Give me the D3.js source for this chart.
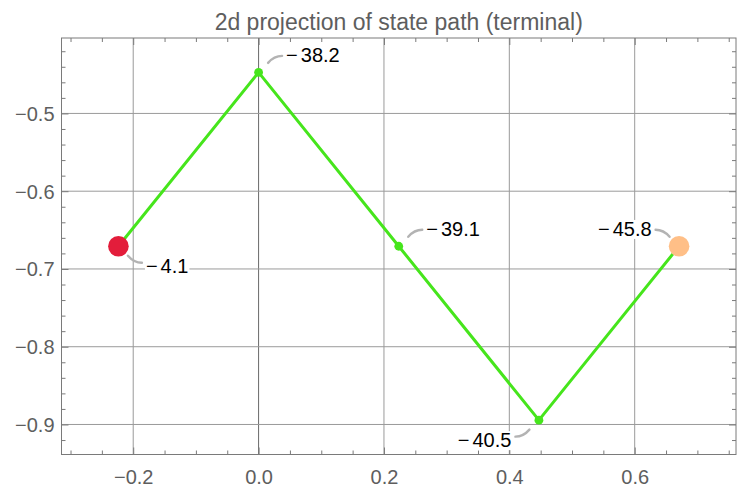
<!DOCTYPE html>
<html>
<head>
<meta charset="utf-8">
<script src="https://cdn.jsdelivr.net/npm/d3@7"></script>
<style>
  html, body { margin: 0; padding: 0; background: #fff; }
  svg { display: block; font-family: "Liberation Sans", Arial, Helvetica, sans-serif; }
</style>
</head>
<body>
<svg id="chart" width="738" height="489"></svg>
<script>
// State path projected to 2d, with the value attached to each state
const pathX = [-0.2236, 0.0, 0.2236, 0.4472, 0.6708];
const pathY = [-0.6708, -0.4472, -0.6708, -0.8944, -0.6708];
const pathValues = [-4.1, -38.2, -39.1, -40.5, -45.8];
// Which side of the point each callout sits on: [horizontal, vertical]
const calloutSide = [[1, 1], [1, -1], [1, -1], [-1, 1], [-1, -1]];

const xTicks = [-0.2, 0.0, 0.2, 0.4, 0.6];
const yTicks = [-0.9, -0.8, -0.7, -0.6, -0.5];
const xDomain = [-0.3144, 0.7616];
const yDomain = [-0.9386, -0.4030];

const W = 738, H = 489;
const plot = { left: 61.5, right: 736, top: 38, bottom: 454.5 };

const svg = d3.select("#chart");
const x = d3.scaleLinear().domain(xDomain).range([plot.left, plot.right]);
const y = d3.scaleLinear().domain(yDomain).range([plot.bottom, plot.top]);
const fmt = d3.format(".1f");

const frameColor = "#7a7a7a";
const gridColor = "#9a9a9a";
const labelGray = "#5e5e5e";

// grid lines
const grid = svg.append("g");
grid.selectAll("line.gx").data(xTicks).join("line")
  .attr("x1", d => x(d)).attr("x2", d => x(d))
  .attr("y1", plot.top).attr("y2", plot.bottom)
  .attr("stroke", d => d === 0 ? "#6a6a6a" : gridColor).attr("stroke-width", 1);
grid.selectAll("line.gy").data(yTicks).join("line")
  .attr("y1", d => y(d)).attr("y2", d => y(d))
  .attr("x1", plot.left).attr("x2", plot.right)
  .attr("stroke", gridColor).attr("stroke-width", 1);

// frame axes (ticks drawn inward on all four sides)
function frameAxis(axisFn, scale, tickVals, size, translate, withLabels) {
  const g = svg.append("g").attr("transform", translate)
    .call(axisFn(scale).tickValues(tickVals).tickSize(size).tickSizeOuter(0)
      .tickFormat(withLabels ? fmt : ""));
  g.select(".domain").remove();
  g.selectAll(".tick line").attr("stroke", frameColor).attr("stroke-width", 1);
  g.selectAll(".tick text").attr("fill", labelGray)
    .style("font-size", "20px").style("font-family", "Liberation Sans, Arial, sans-serif");
  return g;
}
const xMinor = d3.range(-0.30, 0.76, 0.05).map(v => +v.toFixed(2))
  .filter(v => !xTicks.some(t => Math.abs(t - v) < 1e-6));
const yMinor = d3.range(-0.92, -0.40, 0.02).map(v => +v.toFixed(2))
  .filter(v => !yTicks.some(t => Math.abs(t - v) < 1e-6));

// bottom
const gb = frameAxis(d3.axisBottom, x, xTicks, -7, `translate(0,${plot.bottom})`, true);
gb.selectAll(".tick text").attr("y", 29).attr("dy", 0);
frameAxis(d3.axisBottom, x, xMinor, -4, `translate(0,${plot.bottom})`, false);
// top
frameAxis(d3.axisTop, x, xTicks, -7, `translate(0,${plot.top})`, false);
frameAxis(d3.axisTop, x, xMinor, -4, `translate(0,${plot.top})`, false);
// left
const gl = frameAxis(d3.axisLeft, y, yTicks, -7, `translate(${plot.left},0)`, true);
gl.selectAll(".tick text").attr("x", -7).attr("dy", "0.35em");
frameAxis(d3.axisLeft, y, yMinor, -4, `translate(${plot.left},0)`, false);
// right
frameAxis(d3.axisRight, y, yTicks, -7, `translate(${plot.right},0)`, false);
frameAxis(d3.axisRight, y, yMinor, -4, `translate(${plot.right},0)`, false);

// frame rectangle
svg.append("rect")
  .attr("x", plot.left).attr("y", plot.top)
  .attr("width", plot.right - plot.left).attr("height", plot.bottom - plot.top)
  .attr("fill", "none").attr("stroke", frameColor).attr("stroke-width", 1);

// title
svg.append("text")
  .attr("x", (plot.left + plot.right) / 2).attr("y", 29.5)
  .attr("text-anchor", "middle").attr("fill", labelGray)
  .style("font-size", "23px")
  .text("2d projection of state path (terminal)");

// path
const pts = pathX.map((px, i) => ({ x: px, y: pathY[i], v: pathValues[i], side: calloutSide[i], i }));
const green = "#46e51c";
svg.append("path")
  .datum(pts)
  .attr("d", d3.line().x(d => x(d.x)).y(d => y(d.y)))
  .attr("fill", "none").attr("stroke", green).attr("stroke-width", 3)
  .attr("stroke-linejoin", "round");

svg.selectAll("circle.mid").data(pts.slice(1, -1)).join("circle")
  .attr("cx", d => x(d.x)).attr("cy", d => y(d.y)).attr("r", 4.4)
  .attr("fill", green);

// callouts: curved leader + label with white backing
const callouts = svg.append("g");
pts.forEach(d => {
  const px = x(d.x), py = y(d.y);
  const [sx, sy] = d.side;
  const x0 = px + sx * 9.5, y0 = py + sy * 9.5;
  const x1 = px + sx * 23.5, y1 = py + sy * 16.5;
  callouts.append("path")
    .attr("d", `M${x0},${y0} Q${x0 + sx * 6},${y1} ${x1},${y1}`)
    .attr("fill", "none").attr("stroke", "#b3b3b3").attr("stroke-width", 2.4)
    .attr("stroke-linecap", "round");

  const tx = px + sx * 27.5;
  const ty = sy < 0 ? py - 10.3 : py + 27;
  const t = callouts.append("text")
    .attr("x", tx).attr("y", ty)
    .attr("text-anchor", sx > 0 ? "start" : "end")
    .attr("fill", "#000").style("font-size", "20px");
  const s = fmt(d.v);
  if (s[0] === "\u2212") {
    t.append("tspan").text("\u2212");
    t.append("tspan").attr("dx", 3).text(s.slice(1));
  } else {
    t.text(s);
  }
  const bb = t.node().getBBox();
  callouts.insert("rect", () => t.node())
    .attr("x", bb.x - 1).attr("y", bb.y + 2)
    .attr("width", bb.width + 2).attr("height", bb.height - 3)
    .attr("fill", "#fff");
});

// start and end markers
const ends = [pts[0], pts[pts.length - 1]];
const endColors = ["#e31d3b", "#ffbf87"];
svg.selectAll("circle.end").data(ends).join("circle")
  .attr("cx", d => x(d.x)).attr("cy", d => y(d.y)).attr("r", 10.3)
  .attr("fill", (d, i) => endColors[i]);
</script>
</body>
</html>
